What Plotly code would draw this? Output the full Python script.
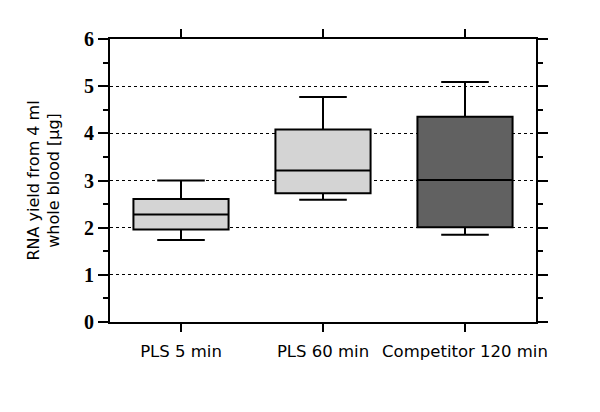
import plotly.graph_objects as go

categories = ["PLS 5 min", "PLS 60 min", "Competitor 120 min"]
lower = [1.74, 2.59, 1.85]
q1 = [1.96, 2.73, 2.01]
median = [2.28, 3.21, 3.01]
q3 = [2.61, 4.08, 4.35]
upper = [3.0, 4.77, 5.09]
fills = ["#d4d4d4", "#d4d4d4", "#616161"]

fig = go.Figure()
for i, c in enumerate(categories):
    fig.add_trace(go.Box(
        x=[c], q1=[q1[i]], median=[median[i]], q3=[q3[i]],
        lowerfence=[lower[i]], upperfence=[upper[i]],
        fillcolor=fills[i], line=dict(color="black", width=2),
        width=0.67, whiskerwidth=0.5, boxpoints=False, showlegend=False,
        hoverinfo="skip",
    ))

fig.update_layout(
    width=600, height=412,
    margin=dict(l=110, r=64, t=39, b=90),
    plot_bgcolor="white", paper_bgcolor="white",
)
fig.update_xaxes(
    type="category", categoryorder="array", categoryarray=categories,
    range=[-0.5, 2.5],
    showline=True, linecolor="black", linewidth=2, mirror="ticks",
    ticks="outside", ticklen=8, tickwidth=2, tickcolor="black",
    showgrid=False,
    tickfont=dict(family="DejaVu Sans", size=16.5, color="black"),
    ticklabelstandoff=5,
)
fig.update_yaxes(
    range=[0, 6], dtick=1, tick0=0,
    showline=True, linecolor="black", linewidth=2, mirror="ticks",
    ticks="outside", ticklen=10, tickwidth=2, tickcolor="black",
    minor=dict(dtick=0.5, ticks="outside", ticklen=5, tickwidth=2, tickcolor="black", showgrid=False),
    showgrid=True, gridcolor="black", gridwidth=1.3, griddash="dot",
    zeroline=False,
    tickfont=dict(family="Liberation Serif", size=20, color="black", weight="bold"),
    title=dict(text="RNA yield from 4 ml<br>whole blood [µg]",
               font=dict(family="DejaVu Sans", size=16, color="black"), standoff=20),
)

fig.write_html("out.html")
